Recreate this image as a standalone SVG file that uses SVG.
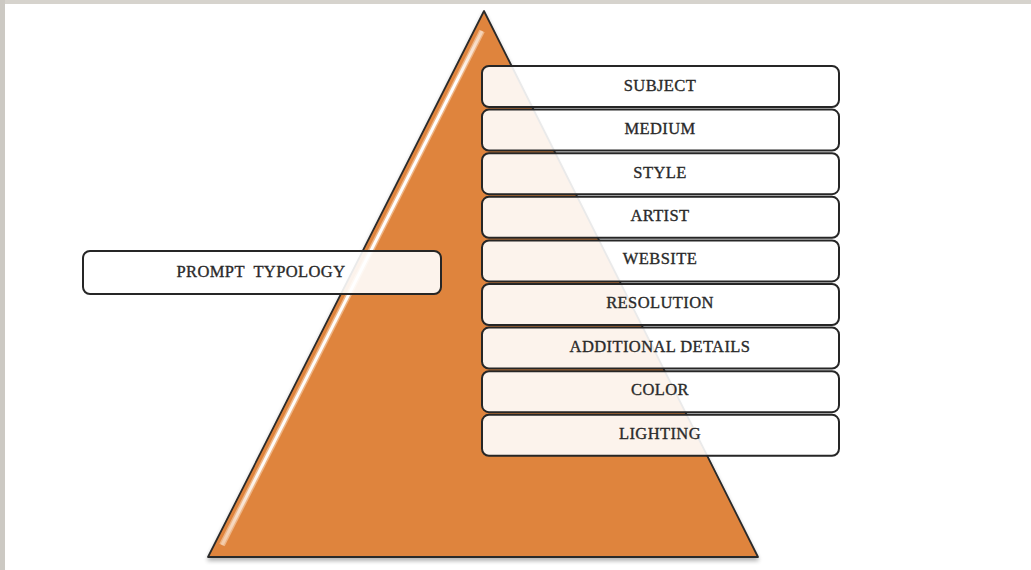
<svg xmlns="http://www.w3.org/2000/svg" width="1031" height="570" viewBox="0 0 1031 570">
<defs>
<style>
.box{fill:#ffffff;fill-opacity:0.9;stroke:#262626;stroke-width:2}
.lbl{font-family:"Liberation Serif","DejaVu Serif",serif;font-size:16.5px;letter-spacing:0.4px;fill:#2a2a2a;stroke:#2a2a2a;stroke-width:0.35;text-anchor:middle;dominant-baseline:central;white-space:pre}
</style>
<linearGradient id="hl" x1="0" y1="0" x2="0" y2="1">
<stop offset="0" stop-color="#fff" stop-opacity="0.4"/>
<stop offset="0.1" stop-color="#fff" stop-opacity="1"/>
<stop offset="0.85" stop-color="#fff" stop-opacity="0.95"/>
<stop offset="1" stop-color="#fff" stop-opacity="0.3"/>
</linearGradient>
<filter id="sh" x="-10%" y="-10%" width="120%" height="120%">
<feGaussianBlur in="SourceAlpha" stdDeviation="2"/>
<feOffset dx="0" dy="3"/>
<feComponentTransfer><feFuncA type="linear" slope="0.3"/></feComponentTransfer>
<feMerge><feMergeNode/><feMergeNode in="SourceGraphic"/></feMerge>
</filter>
</defs>
<rect x="0" y="0" width="1031" height="570" fill="#ffffff"/>
<rect x="0" y="0" width="1031" height="4" fill="#d6d3cd"/>
<rect x="0" y="0" width="5" height="570" fill="#ccc9c3"/>
<g id="pyramid">
<polygon points="484,11 208,557 758,557" fill="#df843d" stroke="#2b2b2b" stroke-width="1.8" stroke-linejoin="round" filter="url(#sh)"/>
<path d="M482,31 L222,545" stroke="#f3c9a3" stroke-width="6" fill="none" opacity="0.7"/>
<path d="M482,31 L222,545" stroke="url(#hl)" stroke-width="3" fill="none"/>
</g>
<g id="connectors"></g>
<g id="prompt-typology"><rect class="box" x="83" y="251" width="358" height="43" rx="7"/><text class="lbl" x="261" y="271" xml:space="preserve">PROMPT  TYPOLOGY</text></g>
<g id="subject"><rect class="box" x="482" y="66" width="357" height="41" rx="7"/><text class="lbl" x="660" y="85">SUBJECT</text></g>
<g id="medium"><rect class="box" x="482" y="109.6" width="357" height="41" rx="7"/><text class="lbl" x="660" y="128.6">MEDIUM</text></g>
<g id="style"><rect class="box" x="482" y="153.2" width="357" height="41" rx="7"/><text class="lbl" x="660" y="172.2">STYLE</text></g>
<g id="artist"><rect class="box" x="482" y="196.8" width="357" height="41" rx="7"/><text class="lbl" x="660" y="215.3">ARTIST</text></g>
<g id="website"><rect class="box" x="482" y="240.4" width="357" height="41" rx="7"/><text class="lbl" x="660" y="258.9">WEBSITE</text></g>
<g id="resolution"><rect class="box" x="482" y="284" width="357" height="41" rx="7"/><text class="lbl" x="660" y="302.5">RESOLUTION</text></g>
<g id="additional-details"><rect class="box" x="482" y="327.6" width="357" height="41" rx="7"/><text class="lbl" x="660" y="346.6">ADDITIONAL DETAILS</text></g>
<g id="color"><rect class="box" x="482" y="371.2" width="357" height="41" rx="7"/><text class="lbl" x="660" y="389.7">COLOR</text></g>
<g id="lighting"><rect class="box" x="482" y="414.8" width="357" height="41" rx="7"/><text class="lbl" x="660" y="433.3">LIGHTING</text></g>
</svg>
